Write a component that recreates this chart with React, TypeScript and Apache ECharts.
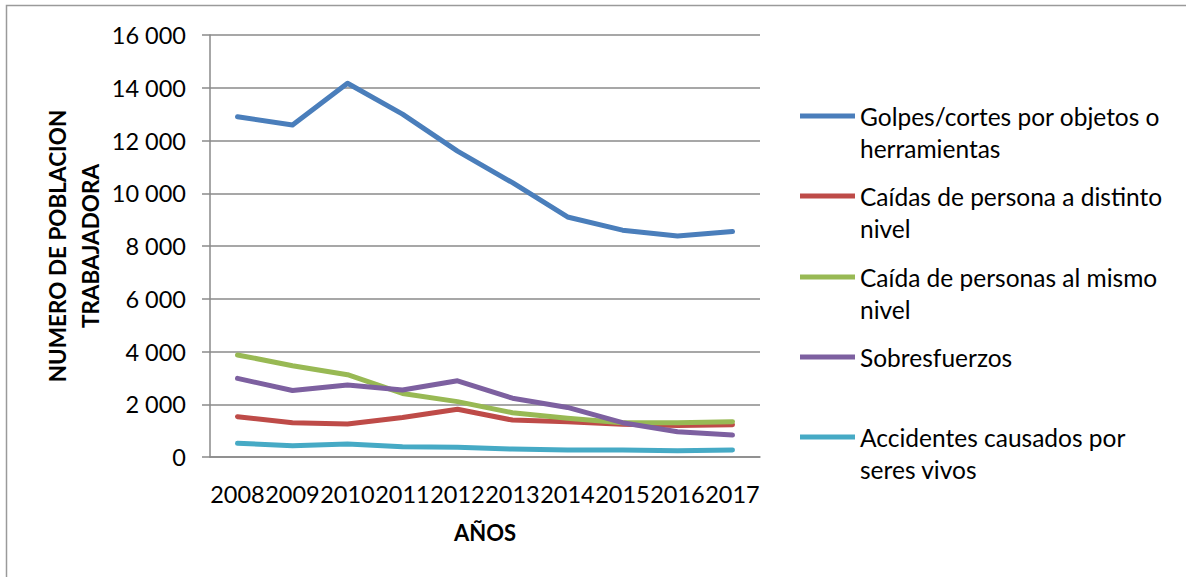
import React, { useEffect, useRef } from "react";
import * as echarts from "echarts";

const years = ["2008", "2009", "2010", "2011", "2012", "2013", "2014", "2015", "2016", "2017"];

const seriesNames = [
  "Golpes/cortes por objetos o\nherramientas",
  "Caídas de persona a distinto\nnivel",
  "Caída de personas al mismo\nnivel",
  "Sobresfuerzos",
  "Accidentes causados por\nseres vivos",
];

const golpes = [12900, 12590, 14170, 13000, 11600, 10400, 9100, 8600, 8380, 8550];
const caidasDistinto = [1530, 1300, 1250, 1500, 1810, 1400, 1340, 1240, 1190, 1220];
const caidasMismo = [3870, 3460, 3120, 2410, 2100, 1680, 1470, 1300, 1300, 1340];
const sobresfuerzos = [2980, 2520, 2730, 2540, 2890, 2230, 1880, 1300, 960, 830];
const seresVivos = [520, 430, 490, 390, 370, 300, 270, 265, 240, 265];

const seriesValues = [golpes, caidasDistinto, caidasMismo, sobresfuerzos, seresVivos];
const colors = ["#4A7EBB", "#BE4B48", "#98B954", "#7D60A0", "#46AAC5"];

const yAxisTitle = "NUMERO DE POBLACION\nTRABAJADORA";
const xAxisTitle = "AÑOS";

const FONT = "Lato";

function fmt(v: number): string {
  return String(v).replace(/\B(?=(\d{3})+(?!\d))/g, " ");
}

export default function App() {
  const ref = useRef<HTMLDivElement>(null);
  useEffect(() => {
    if (!ref.current) return;
    const chart = echarts.init(ref.current, undefined, { renderer: "svg" });
    const legendTops = [100, 180, 261, 341, 421];
    const legends = seriesNames.map((name, i) => {
      const lines = name.split("\n").length;
      const h = lines * 32;
      return {
        data: [name],
        left: 800,
        top: legendTops[i],
        padding: 0,
        orient: "vertical",
        selectedMode: false,
        itemWidth: 55,
        itemHeight: h,
        itemGap: 0,
        symbolKeepAspect: false,
        icon: `path://M0,0M55,${h}M0,13.5L55,13.5L55,18.5L0,18.5Z`,
        textStyle: { fontFamily: FONT, fontSize: 24.5, lineHeight: 32, color: "#000" },
      };
    });
    chart.setOption({
      animation: false,
      backgroundColor: "#fff",
      color: colors,
      legend: legends,
      grid: { left: 210, right: 426, top: 35, bottom: 120, containLabel: false },
      xAxis: {
        type: "category",
        data: years,
        boundaryGap: true,
        name: xAxisTitle,
        nameLocation: "middle",
        nameGap: 64,
        nameTextStyle: { fontFamily: FONT, fontSize: 22, fontWeight: "bold", color: "#000" },
        axisLine: { lineStyle: { color: "#8a8a8a", width: 1.5 } },
        axisTick: { show: false },
        axisLabel: { interval: 0, margin: 25, fontFamily: FONT, fontSize: 23.5, color: "#000" },
      },
      yAxis: {
        type: "value",
        min: 0,
        max: 16000,
        interval: 2000,
        name: yAxisTitle,
        nameLocation: "middle",
        nameGap: 103,
        nameRotate: 90,
        nameTextStyle: { fontFamily: FONT, fontSize: 22.5, fontWeight: "bold", color: "#000", lineHeight: 33 },
        axisLine: { show: true, lineStyle: { color: "#8a8a8a", width: 1.5 } },
        axisTick: { show: true, length: 8, lineStyle: { color: "#8a8a8a", width: 1.5 } },
        splitLine: { lineStyle: { color: "#8a8a8a", width: 1.5 } },
        axisLabel: { margin: 24, fontFamily: FONT, fontSize: 23.5, color: "#000", formatter: (v: number) => fmt(v) },
      },
      graphic: [
        {
          type: "rect",
          shape: { x: 6.5, y: 5.5, width: 1400, height: 800 },
          style: { fill: "none", stroke: "#9a9a9a", lineWidth: 1.5 },
          silent: true,
          z: 100,
        },
      ],
      series: seriesNames.map((name, i) => ({
        type: "line",
        name,
        data: seriesValues[i],
        showSymbol: false,
        symbol: "none",
        lineStyle: { width: 5, color: colors[i], cap: "round", join: "round" },
        itemStyle: { color: colors[i] },
      })),
    });
    return () => chart.dispose();
  }, []);
  return (
    <div
      ref={ref}
      style={{ position: "absolute", left: 0, top: 0, width: 1186, height: 577, background: "#fff" }}
    />
  );
}
